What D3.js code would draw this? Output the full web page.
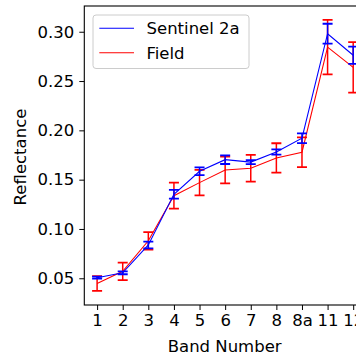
<!DOCTYPE html>
<html>
<head>
<meta charset="utf-8">
<script src="https://cdn.jsdelivr.net/npm/d3@7"></script>
<style>
  body { margin: 0; background: white; }
  text { font-family: "DejaVu Sans", sans-serif; }
</style>
</head>
<body>
<div id="container"></div>
<script>
// data
let bands = ["1", "2", "3", "4", "5", "6", "7", "8", "8a", "11", "12"];
let sentinel = [0.0506, 0.0555, 0.0838, 0.1352, 0.1585, 0.1703, 0.1678, 0.1780, 0.1920, 0.2980, 0.2762];
let sentinelErr = [0.0010, 0.0014, 0.0034, 0.0044, 0.0040, 0.0044, 0.0020, 0.0027, 0.0050, 0.0101, 0.0088];
let field = [0.0447, 0.0570, 0.0880, 0.1338, 0.1470, 0.1598, 0.1616, 0.1720, 0.1778, 0.2844, 0.2638];
let fieldErr = [0.0075, 0.0088, 0.0089, 0.0132, 0.0130, 0.0135, 0.0135, 0.0149, 0.0150, 0.0276, 0.0256];
let yTicks = [0.05, 0.10, 0.15, 0.20, 0.25, 0.30];

let blue = "#0000ff";
let red = "#ff0000";
let fontSize = 16.5;

let plotLeft = 84.3, plotRight = 366, plotTop = 6, plotBottom = 305;

let viz = d3.select("#container")
  .append("svg")
    .attr("width", 356)
    .attr("height", 356)
    .style("background-color", "white")
;

let x = d3.scalePoint()
  .domain(bands)
  .range([plotLeft, plotRight])
  .padding(0.5)
;

let y = d3.scaleLinear()
  .domain([0.0229, 0.3261])
  .range([plotBottom, plotTop])
;

viz.append("clipPath")
  .attr("id", "plotclip")
  .append("rect")
    .attr("x", plotLeft)
    .attr("y", plotTop)
    .attr("width", plotRight - plotLeft)
    .attr("height", plotBottom - plotTop)
;

let plot = viz.append("g").attr("clip-path", "url(#plotclip)");

function drawSeries(values, errs, color) {
  let rows = bands.map((b, i) => ({ band: b, v: values[i], e: errs[i] }));

  plot.append("path")
    .datum(rows)
    .attr("fill", "none")
    .attr("stroke", color)
    .attr("stroke-width", 1.1)
    .attr("d", d3.line().x(d => x(d.band)).y(d => y(d.v)))
  ;

  let bars = plot.append("g")
    .selectAll("g")
    .data(rows)
    .join("g")
      .attr("stroke", color)
      .attr("stroke-width", 1.5)
  ;
  bars.append("line")
    .attr("x1", d => x(d.band))
    .attr("x2", d => x(d.band))
    .attr("y1", d => y(d.v - d.e))
    .attr("y2", d => y(d.v + d.e))
  ;
  [-1, 1].forEach(s => {
    bars.append("line")
      .attr("x1", d => x(d.band) - 5)
      .attr("x2", d => x(d.band) + 5)
      .attr("y1", d => y(d.v + s * d.e))
      .attr("y2", d => y(d.v + s * d.e))
      .attr("stroke-width", 1.8)
    ;
  });
}

drawSeries(field, fieldErr, red);
drawSeries(sentinel, sentinelErr, blue);

// axes
let xAxis = viz.append("g")
  .attr("transform", "translate(0," + plotBottom + ")")
  .call(d3.axisBottom(x).tickSizeOuter(0).tickSize(5).tickPadding(4))
;
let yAxis = viz.append("g")
  .attr("transform", "translate(" + plotLeft + ",0)")
  .call(d3.axisLeft(y).tickValues(yTicks).tickFormat(d3.format(".2f")).tickSizeOuter(0).tickSize(5).tickPadding(5))
;
[xAxis, yAxis].forEach(a => {
  a.select(".domain").remove();
  a.selectAll("line").attr("stroke", "black").attr("stroke-width", 1);
  a.selectAll("text")
    .attr("font-size", fontSize)
    .attr("font-family", "DejaVu Sans")
    .attr("fill", "black");
});

// spines
viz.append("rect")
  .attr("x", plotLeft)
  .attr("y", plotTop)
  .attr("width", plotRight - plotLeft)
  .attr("height", plotBottom - plotTop)
  .attr("fill", "none")
  .attr("stroke", "black")
  .attr("stroke-width", 1.1)
;

viz.append("text")
  .text("Band Number")
  .attr("x", (plotLeft + plotRight) / 2 - 0.5)
  .attr("y", 352)
  .attr("text-anchor", "middle")
  .attr("font-size", fontSize)
;

viz.append("text")
  .text("Reflectance")
  .attr("transform", "translate(26," + 157 + ") rotate(-90)")
  .attr("text-anchor", "middle")
  .attr("font-size", fontSize)
;

// legend
let legend = viz.append("g");
legend.append("rect")
  .attr("x", 93)
  .attr("y", 15)
  .attr("width", 156)
  .attr("height", 53.5)
  .attr("rx", 3)
  .attr("fill", "white")
  .attr("fill-opacity", 0.8)
  .attr("stroke", "#cccccc")
  .attr("stroke-width", 1)
;
let legendItems = [
  { label: "Sentinel 2a", color: blue, ly: 28.3 },
  { label: "Field", color: red, ly: 52.7 }
];
legendItems.forEach(item => {
  legend.append("line")
    .attr("x1", 99.3)
    .attr("x2", 134)
    .attr("y1", item.ly)
    .attr("y2", item.ly)
    .attr("stroke", item.color)
    .attr("stroke-width", 1.1)
  ;
  legend.append("text")
    .text(item.label)
    .attr("x", 146.5)
    .attr("y", item.ly + 6)
    .attr("font-size", fontSize)
  ;
});
</script>
</body>
</html>
